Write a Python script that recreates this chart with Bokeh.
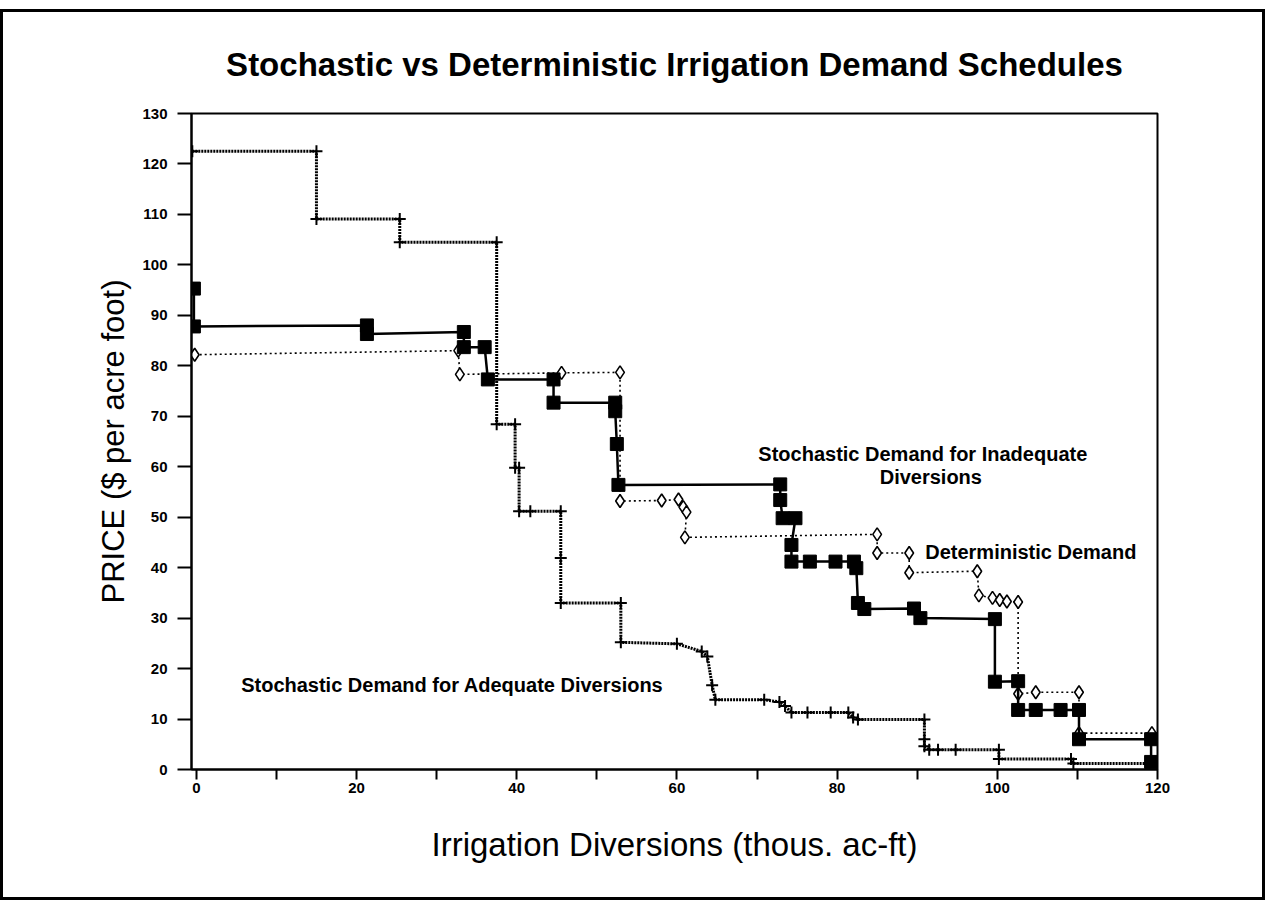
from bokeh.plotting import figure
from bokeh.models import FixedTicker, Label, Range1d
from bokeh.embed import file_html
from bokeh.resources import INLINE

# ---------------- data ----------------
title_text = "Stochastic vs Deterministic Irrigation Demand Schedules"
x_title = "Irrigation Diversions (thous. ac-ft)"
y_title = "PRICE ($ per acre foot)"

x_major_ticks = [0, 20, 40, 60, 80, 100, 120]
x_minor_ticks = [10, 30, 50, 70, 90, 110]
y_ticks = [0, 10, 20, 30, 40, 50, 60, 70, 80, 90, 100, 110, 120, 130]

# Stochastic demand for adequate diversions (plus markers)
adequate_x = [-0.5, 15.0, 15.0, 25.4, 25.4, 37.5, 37.5, 39.8, 39.8, 40.3, 40.3, 41.7,
              45.5, 45.5, 45.5, 53.0, 53.0, 60.0, 63.1, 63.8, 64.4, 64.8, 70.9, 72.8,
              73.5, 74.3, 76.3, 79.2, 81.4, 82.0, 82.6, 90.9, 90.9, 90.9, 91.5, 92.6,
              94.8, 100.2, 100.2, 109.2, 109.5, 119.0]
adequate_y = [122.5, 122.5, 109.1, 109.1, 104.5, 104.5, 68.4, 68.4, 59.8, 59.8, 51.2, 51.2,
              51.2, 41.9, 33.0, 33.0, 25.2, 24.9, 23.4, 22.4, 16.7, 13.8, 13.8, 13.4,
              12.6, 11.3, 11.3, 11.3, 11.3, 10.3, 9.9, 9.9, 6.0, 4.6, 3.9, 3.9,
              3.9, 3.9, 2.1, 2.1, 1.2, 1.2]

# Stochastic demand for inadequate diversions (filled squares)
inadequate_x = [-0.3, -0.3, 21.3, 21.3, 33.4, 33.4, 36.0, 36.4, 44.6, 44.6, 52.3, 52.3,
                52.5, 52.7, 72.9, 72.9, 73.2, 74.8, 74.3, 74.3, 76.6, 79.8, 82.1, 82.4,
                82.6, 83.4, 89.6, 90.4, 99.7, 99.7, 102.6, 102.6, 104.8, 107.9, 110.2,
                110.2, 119.2, 119.2]
inadequate_y = [95.3, 87.8, 88.0, 86.3, 86.7, 83.7, 83.7, 77.3, 77.3, 72.7, 72.7, 71.0,
                64.5, 56.4, 56.5, 53.4, 49.8, 49.8, 44.5, 41.2, 41.2, 41.2, 41.2, 39.9,
                33.0, 31.8, 31.9, 30.0, 29.8, 17.4, 17.5, 11.8, 11.8, 11.8, 11.8,
                6.0, 6.0, 1.5]

# Deterministic demand (open diamonds)
deterministic_x = [-0.2, 32.7, 32.9, 45.6, 52.9, 52.9, 58.1, 60.2, 60.8, 61.2, 61.0, 85.0,
                   85.0, 89.0, 89.0, 97.5, 97.7, 99.4, 100.3, 101.2, 102.6, 102.6, 104.8,
                   110.2, 110.2, 119.3]
deterministic_y = [82.2, 83.0, 78.3, 78.6, 78.7, 53.2, 53.3, 53.5, 52.0, 51.0, 46.0, 46.6,
                   42.9, 42.9, 39.0, 39.3, 34.5, 34.0, 33.6, 33.3, 33.2, 15.0, 15.3,
                   15.3, 7.2, 7.2]

FONT = "Liberation Sans"

p = figure(width=1265, height=891,
           x_range=Range1d(-0.6, 120), y_range=Range1d(0, 130),
           output_backend="svg", toolbar_location=None,
           min_border_left=188, min_border_right=111,
           min_border_top=101, min_border_bottom=134)

p.styles = {"border": "3px solid black", "margin-top": "9px"}

p.title.text = title_text
p.title.align = "center"
p.title.text_font = FONT
p.title.text_font_size = "33px"
p.title.text_font_style = "bold"
p.title.text_color = "black"
p.title.standoff = 62

p.xgrid.visible = False
p.ygrid.visible = False
p.outline_line_color = "black"
p.outline_line_width = 2
p.background_fill_color = "white"
p.border_fill_color = "white"

# axes
p.xaxis.ticker = FixedTicker(ticks=x_major_ticks, minor_ticks=x_minor_ticks)
p.yaxis.ticker = FixedTicker(ticks=y_ticks, minor_ticks=[])
for ax in (p.xaxis[0], p.yaxis[0]):
    ax.axis_line_width = 2
    ax.axis_line_color = "black"
    ax.major_tick_line_width = 2
    ax.minor_tick_line_width = 2
    ax.major_tick_in = 0
    ax.minor_tick_in = 0
    ax.major_label_text_font = FONT
    ax.major_label_text_font_style = "bold"
    ax.major_label_text_font_size = "15px"
    ax.major_label_text_color = "black"
    ax.axis_label_text_font = FONT
    ax.axis_label_text_font_style = "normal"
    ax.axis_label_text_color = "black"

p.xaxis.major_tick_out = 10
p.xaxis.minor_tick_out = 10
p.xaxis.major_label_standoff = 3
p.xaxis.axis_label = x_title
p.xaxis.axis_label_text_font_size = "33px"
p.xaxis.axis_label_standoff = 30

p.yaxis.major_tick_out = 14
p.yaxis.minor_tick_out = 0
p.yaxis.major_label_standoff = 10
p.yaxis.axis_label = y_title
p.yaxis.axis_label_text_font_size = "31px"
p.yaxis.axis_label_standoff = 8

# series
p.line(deterministic_x, deterministic_y, line_color="black", line_width=1.6, line_dash="2 3")
p.scatter(deterministic_x, deterministic_y, marker="diamond", size=13,
          fill_color="white", line_color="black", line_width=1.6)

p.line(adequate_x, adequate_y, line_color="black", line_width=3, line_dash="2 1")
p.scatter(adequate_x, adequate_y, marker="cross", size=12, line_color="black", line_width=2)

p.line(inadequate_x, inadequate_y, line_color="black", line_width=2.5)
p.scatter(inadequate_x, inadequate_y, marker="square", size=13,
          fill_color="black", line_color="black")

# annotations
lab_kw = dict(text_font=FONT, text_font_style="bold", text_font_size="20px",
              text_color="black", text_baseline="middle")
p.add_layout(Label(x=90.7, y=62.5, text="Stochastic Demand for Inadequate",
                   text_align="center", **lab_kw))
p.add_layout(Label(x=91.7, y=57.9, text="Diversions", text_align="center", **lab_kw))
p.add_layout(Label(x=91.0, y=43.1, text="Deterministic Demand", text_align="left", **lab_kw))
p.add_layout(Label(x=5.6, y=16.7, text="Stochastic Demand for Adequate Diversions",
                   text_align="left", **lab_kw))

open("out.html", "w").write(file_html(p, INLINE))
